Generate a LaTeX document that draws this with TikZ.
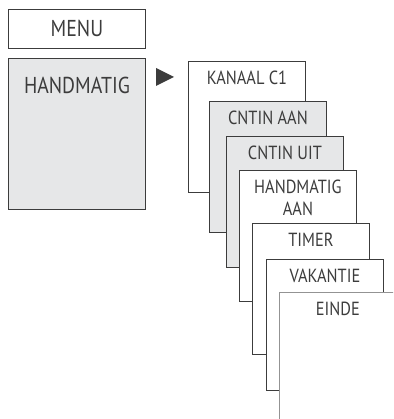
\documentclass[tikz,border=0pt]{standalone}
\usepackage{fontspec}
\setmainfont{PT Sans}[FakeStretch=0.86]
\definecolor{boxline}{HTML}{3C3C3C}
\definecolor{boxgray}{HTML}{E6E7E8}
\tikzset{
  menubox/.style={draw=boxline, line width=0.9pt, fill=white, anchor=north west,
    minimum width=117pt, minimum height=131pt, inner sep=0pt},
  graybox/.style={menubox, fill=boxgray},
  boxtext/.style={anchor=north, inner sep=0pt, yshift=-10pt, align=center,
    text=boxline, font=\fontsize{19}{22}\selectfont},
  bigtext/.style={boxtext, yshift=-9.3pt, font=\fontsize{23}{26}\selectfont}
}
\begin{document}
\begin{tikzpicture}[x=1pt,y=-1pt]
  \useasboundingbox (0,0) rectangle (393,419);
  \clip (0,0) rectangle (393,419);
  % left column
  \node[menubox, minimum width=137pt, minimum height=39pt] (menu) at (8,9) {};
  \node[text=boxline, font=\fontsize{23}{26}\selectfont] (menutxt) at (menu.center) {MENU};
  \node[graybox, minimum width=137pt, minimum height=151pt,
    label={[bigtext]north:HANDMATIG}] (hand) at (8,58) {};
  \fill[boxline] (156,68) -- (156,86) -- (174,77) -- cycle;
  % stacked submenu
  \node[menubox, label={[boxtext]north:KANAAL C1}] (kanaal) at (188,61) {};
  \node[graybox, label={[boxtext]north:CNTIN AAN}] (cntinaan) at (209,101) {};
  \node[graybox, label={[boxtext]north:CNTIN UIT}] (cntinuit) at (226,136) {};
  \node[menubox, label={[boxtext]north:HANDMATIG\\AAN}] (handaan) at (239,170) {};
  \node[menubox, label={[boxtext]north:TIMER}] (timer) at (252,223) {};
  \node[menubox, label={[boxtext]north:VAKANTIE}] (vakantie) at (266,259) {};
  \node[menubox, draw=gray!85, label={[boxtext]north:EINDE}] (einde) at (279,292) {};
\end{tikzpicture}
\end{document}
